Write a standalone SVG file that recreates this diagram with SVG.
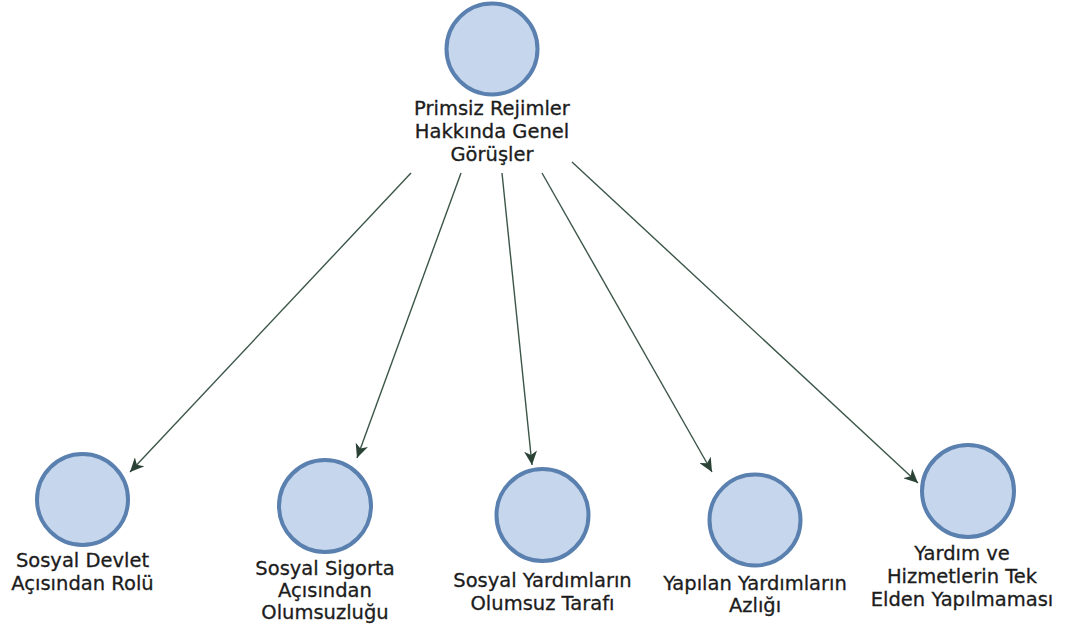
<svg xmlns="http://www.w3.org/2000/svg" width="1071" height="636" viewBox="0 0 1071 636">
<style>
.node circle{fill:#c6d6ec;stroke:#5a80b0;stroke-width:4}
.node text{font-family:"DejaVu Sans",sans-serif;font-size:19.5px;fill:#1c1c1c;stroke:#1c1c1c;stroke-width:0.3;text-anchor:middle}
.edge{stroke:#3b5648;stroke-width:1.4;fill:none;marker-end:url(#arr)}
</style>
<defs>
<marker id="arr" markerWidth="15" markerHeight="13" refX="14" refY="6.5" orient="auto" markerUnits="userSpaceOnUse">
<path d="M0,0 L14,6.5 L0,13 L4,6.5 z" fill="#2a4336"/>
</marker>
</defs>
<rect width="1071" height="636" fill="#fff"/>
<g id="connectors">
<line class="edge" x1="411" y1="173" x2="130" y2="472"/>
<line class="edge" x1="461" y1="173" x2="357" y2="458"/>
<line class="edge" x1="502" y1="173" x2="532" y2="465"/>
<line class="edge" x1="542" y1="173" x2="712" y2="472"/>
<line class="edge" x1="572" y1="162" x2="918" y2="483"/>
</g>
<g id="n0" class="node">
<circle cx="492" cy="49" r="45.5"/>
<text x="492" y="115">Primsiz Rejimler</text>
<text x="492" y="138">Hakkında Genel</text>
<text x="492" y="161">Görüşler</text>
</g>
<g id="n1" class="node">
<circle cx="82.5" cy="499.5" r="45.5"/>
<text x="82.5" y="567">Sosyal Devlet</text>
<text x="82.5" y="590">Açısından Rolü</text>
</g>
<g id="n2" class="node">
<circle cx="325" cy="506" r="46"/>
<text x="325" y="575">Sosyal Sigorta</text>
<text x="325" y="597">Açısından</text>
<text x="325" y="619">Olumsuzluğu</text>
</g>
<g id="n3" class="node">
<circle cx="542.5" cy="515" r="46"/>
<text x="542.5" y="587">Sosyal Yardımların</text>
<text x="542.5" y="610">Olumsuz Tarafı</text>
</g>
<g id="n4" class="node">
<circle cx="755" cy="520" r="45.5"/>
<text x="755" y="590">Yapılan Yardımların</text>
<text x="755" y="612">Azlığı</text>
</g>
<g id="n5" class="node">
<circle cx="968" cy="491" r="46"/>
<text x="962" y="560">Yardım ve</text>
<text x="962" y="583">Hizmetlerin Tek</text>
<text x="962" y="606">Elden Yapılmaması</text>
</g>
</svg>
